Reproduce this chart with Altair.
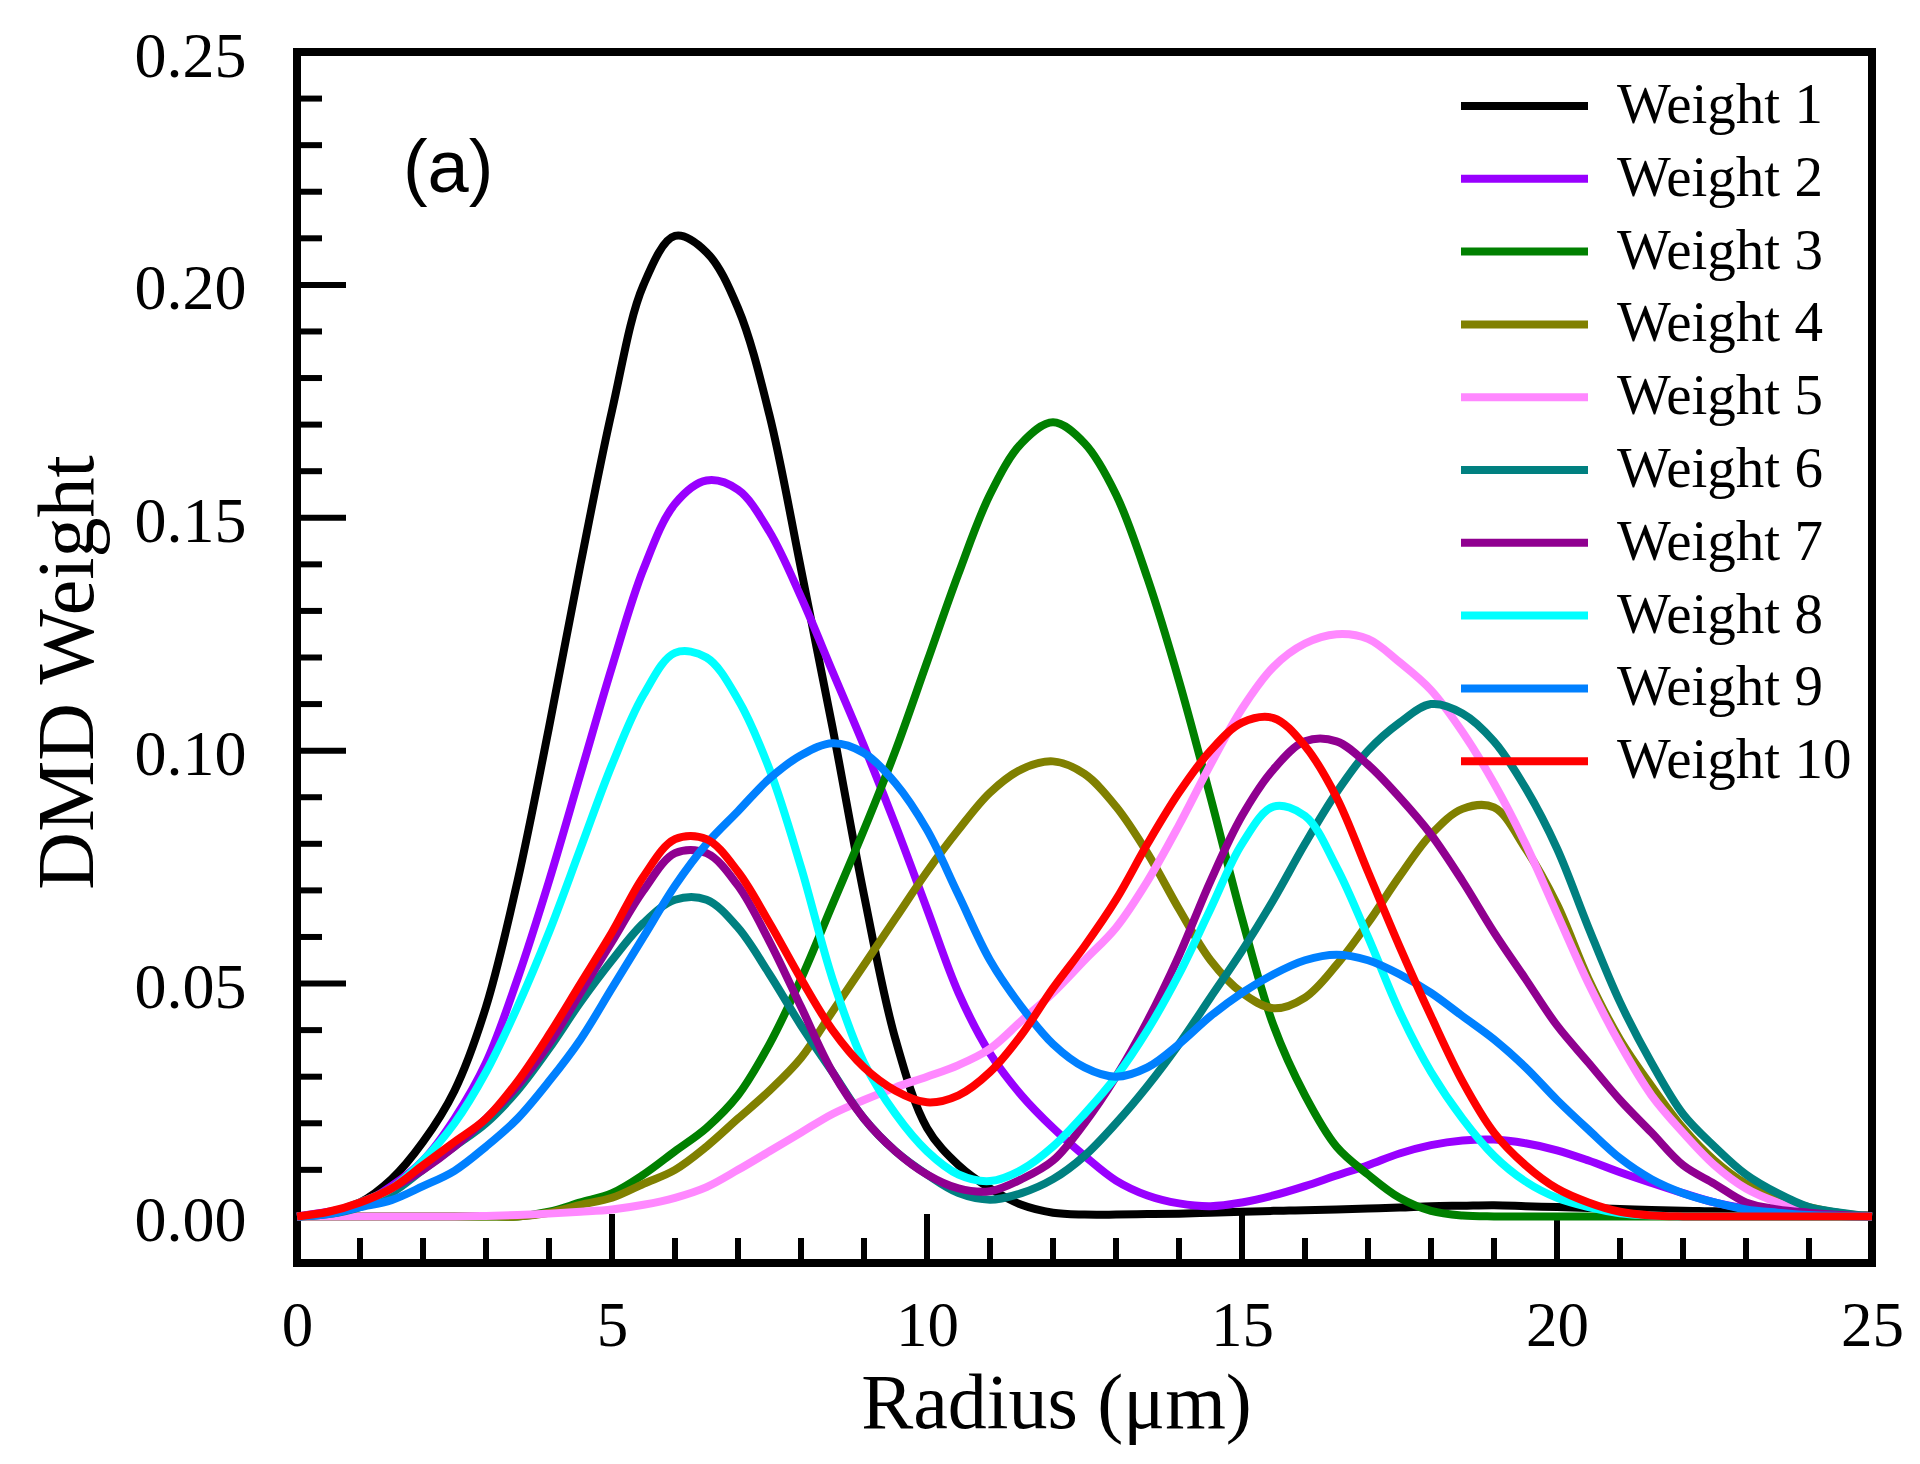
import altair as alt
import pandas as pd

# ---------------- data ----------------
R = [0, 0.5, 1, 1.5, 2, 2.5, 3, 3.5, 4, 4.5, 5, 5.5, 6, 6.5, 7, 7.5, 8, 8.5, 9, 9.5,
     10, 10.5, 11, 11.5, 12, 12.5, 13, 13.5, 14, 14.5, 15, 15.5, 16, 16.5, 17, 17.5,
     18, 18.5, 19, 19.5, 20, 20.5, 21, 21.5, 22, 22.5, 23, 23.5, 24, 24.5, 25]

W1 = [0, 0.0008, 0.003, 0.008, 0.016, 0.027, 0.045, 0.072, 0.105, 0.140, 0.173, 0.200,
      0.2105, 0.207, 0.195, 0.172, 0.139, 0.105, 0.069, 0.038, 0.019, 0.011, 0.006, 0.0025,
      0.0008, 0.0004, 0.0004, 0.0005, 0.0006, 0.0008, 0.001, 0.0012, 0.0013, 0.0015, 0.0017,
      0.0019, 0.0022, 0.0023, 0.0024, 0.0022, 0.002, 0.0018, 0.0016, 0.0014, 0.0012, 0.0011,
      0.0009, 0.0007, 0.0005, 0.0003, 0.0002]
W2 = [0, 0.001, 0.0025, 0.0065, 0.012, 0.021, 0.033, 0.051, 0.072, 0.095, 0.118, 0.139,
      0.153, 0.158, 0.156, 0.147, 0.133, 0.117, 0.101, 0.084, 0.066, 0.048, 0.035, 0.026,
      0.019, 0.013, 0.0077, 0.0045, 0.0028, 0.0022, 0.003, 0.0045, 0.0065, 0.0088, 0.011,
      0.0135, 0.0153, 0.0163, 0.0165, 0.0157, 0.0142, 0.012, 0.0095, 0.0072, 0.005, 0.003,
      0.0017, 0.0008, 0.0003, 0.0001, 0]
W3 = [0, 0, 0, 0, 0, 0, 0, 0, 0.001, 0.003, 0.005, 0.009, 0.014, 0.019, 0.026, 0.037,
      0.051, 0.067, 0.083, 0.100, 0.119, 0.138, 0.155, 0.166, 0.1705, 0.166, 0.155, 0.137,
      0.115, 0.090, 0.064, 0.041, 0.026, 0.015, 0.009, 0.004, 0.0012, 0.0002, 0, 0, 0, 0,
      0, 0, 0, 0, 0, 0, 0, 0, 0]
W4 = [0, 0, 0, 0, 0, 0, 0, 0, 0.0008, 0.0025, 0.004, 0.007, 0.010, 0.015, 0.021, 0.027,
      0.034, 0.044, 0.054, 0.064, 0.074, 0.083, 0.091, 0.096, 0.0977, 0.095, 0.088, 0.078,
      0.066, 0.055, 0.048, 0.0447, 0.047, 0.054, 0.063, 0.073, 0.082, 0.0875, 0.0878, 0.079,
      0.067, 0.051, 0.038, 0.028, 0.019, 0.012, 0.007, 0.004, 0.002, 0.0007, 0]
W5 = [0, 0, 0, 0, 0, 0, 0.0001, 0.0003, 0.0006, 0.001, 0.0015, 0.0025, 0.004, 0.0063,
      0.010, 0.014, 0.018, 0.022, 0.025, 0.0277, 0.030, 0.0325, 0.036, 0.042, 0.048, 0.055,
      0.062, 0.072, 0.084, 0.097, 0.109, 0.118, 0.123, 0.125, 0.124, 0.119, 0.113, 0.104,
      0.093, 0.080, 0.065, 0.050, 0.037, 0.026, 0.018, 0.011, 0.006, 0.003, 0.001, 0.0004, 0]
W6 = [0, 0.0005, 0.002, 0.005, 0.010, 0.015, 0.020, 0.027, 0.036, 0.046, 0.055, 0.063,
      0.068, 0.068, 0.062, 0.052, 0.041, 0.031, 0.021, 0.014, 0.009, 0.005, 0.0036, 0.005,
      0.008, 0.013, 0.020, 0.028, 0.037, 0.047, 0.057, 0.068, 0.080, 0.091, 0.100, 0.106,
      0.110, 0.108, 0.102, 0.092, 0.079, 0.062, 0.046, 0.033, 0.022, 0.015, 0.009, 0.005,
      0.002, 0.0008, 0]
W7 = [0, 0.0007, 0.003, 0.006, 0.010, 0.015, 0.021, 0.028, 0.037, 0.048, 0.059, 0.070,
      0.078, 0.078, 0.071, 0.059, 0.045, 0.031, 0.021, 0.014, 0.009, 0.006, 0.0054, 0.008,
      0.012, 0.020, 0.030, 0.042, 0.056, 0.072, 0.086, 0.096, 0.102, 0.102, 0.097, 0.090,
      0.082, 0.072, 0.061, 0.051, 0.041, 0.033, 0.025, 0.018, 0.011, 0.007, 0.003, 0.0015,
      0.0008, 0.0003, 0]
W8 = [0, 0.0008, 0.003, 0.006, 0.012, 0.020, 0.031, 0.045, 0.061, 0.079, 0.097, 0.112,
      0.121, 0.120, 0.111, 0.096, 0.075, 0.051, 0.033, 0.022, 0.014, 0.009, 0.0076, 0.010,
      0.015, 0.022, 0.030, 0.040, 0.052, 0.066, 0.080, 0.088, 0.086, 0.075, 0.060, 0.044,
      0.031, 0.021, 0.013, 0.0075, 0.004, 0.002, 0.0007, 0.0002, 0, 0, 0, 0, 0, 0, 0]
W9 = [0, 0.0005, 0.002, 0.0035, 0.0065, 0.0098, 0.015, 0.021, 0.029, 0.038, 0.049, 0.060,
      0.071, 0.080, 0.087, 0.094, 0.099, 0.1016, 0.0995, 0.093, 0.083, 0.069, 0.055, 0.045,
      0.037, 0.032, 0.030, 0.032, 0.037, 0.043, 0.048, 0.052, 0.055, 0.0562, 0.055, 0.052,
      0.048, 0.043, 0.038, 0.032, 0.025, 0.0186, 0.0125, 0.008, 0.005, 0.003, 0.0015,
      0.0008, 0.0003, 0.0001, 0]
W10 = [0, 0.001, 0.003, 0.006, 0.011, 0.016, 0.021, 0.029, 0.039, 0.050, 0.061, 0.073,
       0.081, 0.081, 0.074, 0.063, 0.051, 0.040, 0.032, 0.027, 0.0245, 0.026, 0.031, 0.039,
       0.049, 0.058, 0.068, 0.080, 0.091, 0.100, 0.106, 0.107, 0.101, 0.090, 0.074, 0.058,
       0.043, 0.029, 0.018, 0.011, 0.006, 0.003, 0.001, 0.0002, 0, 0, 0, 0, 0, 0, 0]

SERIES = ["Weight 1", "Weight 2", "Weight 3", "Weight 4", "Weight 5",
          "Weight 6", "Weight 7", "Weight 8", "Weight 9", "Weight 10"]
VALUES = [W1, W2, W3, W4, W5, W6, W7, W8, W9, W10]
COLORS = ["#000000", "#9900ff", "#008000", "#808000", "#ff88ff",
          "#008080", "#900090", "#00ffff", "#0080ff", "#ff0000"]

X_MAJOR = [0, 5, 10, 15, 20, 25]
X_MINOR = [1, 2, 3, 4, 6, 7, 8, 9, 11, 12, 13, 14, 16, 17, 18, 19, 21, 22, 23, 24]
Y_MAJOR = [0.0, 0.05, 0.10, 0.15, 0.20, 0.25]
Y_MINOR = [0.01, 0.02, 0.03, 0.04, 0.06, 0.07, 0.08, 0.09, 0.11, 0.12, 0.13, 0.14,
           0.16, 0.17, 0.18, 0.19, 0.21, 0.22, 0.23, 0.24]

PANEL_LABEL = "(a)"
PANEL_R = 2.4
PANEL_V = 0.2247

# ---------------- build ----------------
rows = []
for name, vals in zip(SERIES, VALUES):
    for r, v in zip(R, vals):
        rows.append({"r": r, "v": v, "series": name})
df = pd.DataFrame(rows)

W, H = 1575, 1211
SERIF = "Liberation Serif"

xscale = alt.Scale(domain=[0, 25], nice=False, zero=False)
yscale = alt.Scale(domain=[-0.01, 0.25], nice=False, zero=False)

xaxis = alt.Axis(values=X_MAJOR, format="d", labelFont=SERIF, labelFontSize=63,
                 labelColor="black", labelPadding=32, labelFlush=False, labelOverlap=False,
                 ticks=False, tickSize=0, domain=False, grid=False,
                 title="Radius (μm)", titleFont=SERIF, titleFontSize=78,
                 titleFontWeight="normal", titleColor="black", titleX=759, titleY=164,
                 titleBaseline="alphabetic", titleAlign="center")
yaxis = alt.Axis(values=Y_MAJOR, format=".2f", labelFont=SERIF, labelFontSize=64,
                 labelColor="black", labelPadding=51, labelOffset=5, labelFlush=False,
                 labelOverlap=False, ticks=False, tickSize=0, domain=False, grid=False,
                 title="DMD Weight", titleFont=SERIF, titleFontSize=80,
                 titleFontWeight="normal", titleColor="black", titleX=-205, titleY=620,
                 titleAngle=270, titleBaseline="alphabetic", titleAlign="center")


def X():
    return alt.X("r:Q", scale=xscale, axis=xaxis)


def Y():
    return alt.Y("v:Q", scale=yscale, axis=yaxis)


lines = alt.Chart(df).mark_line(strokeWidth=8, interpolate="catmull-rom").encode(
    x=X(), y=Y(),
    color=alt.Color("series:N", scale=alt.Scale(domain=SERIES, range=COLORS),
                    legend=alt.Legend(title=None, orient="none", legendX=1160, legendY=23,
                                      symbolType="stroke", symbolSize=16129,
                                      symbolStrokeWidth=8, labelFont=SERIF,
                                      labelFontSize=57, labelColor="black", labelOffset=25,
                                      labelLimit=500, clipHeight=62, rowPadding=10.8,
                                      padding=0)),
)

xmaj = alt.Chart(pd.DataFrame({"r": X_MAJOR})).mark_rule(color="black", strokeWidth=6).encode(
    x=X(), y=alt.value(H), y2=alt.value(H - 49))
xmin = alt.Chart(pd.DataFrame({"r": X_MINOR})).mark_rule(color="black", strokeWidth=6).encode(
    x=X(), y=alt.value(H), y2=alt.value(H - 25))
ymaj = alt.Chart(pd.DataFrame({"v": Y_MAJOR})).mark_rule(color="black", strokeWidth=6).encode(
    y=Y(), x=alt.value(0), x2=alt.value(49))
ymin = alt.Chart(pd.DataFrame({"v": Y_MINOR})).mark_rule(color="black", strokeWidth=6).encode(
    y=Y(), x=alt.value(0), x2=alt.value(25))

panel = alt.Chart(pd.DataFrame({"r": [PANEL_R], "v": [PANEL_V], "t": [PANEL_LABEL]})).mark_text(
    font="Liberation Sans", fontSize=74, color="black", align="center", baseline="middle"
).encode(x=X(), y=Y(), text="t:N")

chart = alt.layer(xmaj, xmin, ymaj, ymin, lines, panel).properties(
    width=W, height=H,
    autosize=alt.AutoSizeParams(type="none"),
    padding={"left": 289, "top": 44, "right": 40, "bottom": 193},
    background="white",
).configure_view(stroke="black", strokeWidth=8)

chart.save("out.html", embed_options={"renderer": "svg", "actions": False})
